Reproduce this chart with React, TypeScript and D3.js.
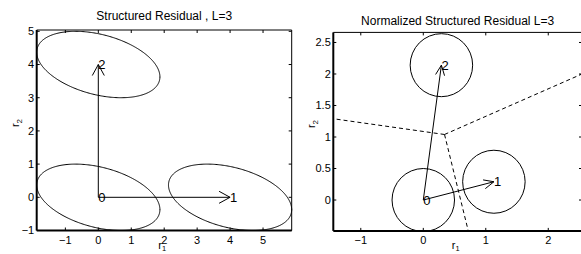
import React, { useEffect, useRef } from "react";
import * as d3 from "d3";

// left panel: structured residual
const leftXTicks = [-1, 0, 1, 2, 3, 4, 5];
const leftYTicks = [-1, 0, 1, 2, 3, 4, 5];
const leftPoints = [
  { label: "0", x: 0, y: 0 },
  { label: "1", x: 4, y: 0 },
  { label: "2", x: 0, y: 4 },
];
const ellipseRadius = { rx: 1.87, ry: 1.0, rho: -0.37 };

// right panel: normalized structured residual
const rightXTicks = [-1, 0, 1, 2];
const rightYTicks = [0, 0.5, 1, 1.5, 2, 2.5];
const rightPoints = [
  { label: "0", x: 0, y: 0 },
  { label: "1", x: 1.13, y: 0.29 },
  { label: "2", x: 0.29, y: 2.14 },
];
const circleRadius = 0.5;
const boundaryJoin = { x: 0.34, y: 1.04 };
const boundaryEnds = [
  { x: -1.44, y: 1.29 },
  { x: 2.54, y: 2.0 },
  { x: 0.72, y: -0.49 },
];

const FONT = "'Liberation Sans', Arial, Helvetica, sans-serif";
const fmt = d3.format("");

export default function App() {
  const ref = useRef<SVGSVGElement>(null);

  useEffect(() => {
    const svg = d3.select(ref.current);
    svg.selectAll("*").remove();

    const drawAxes = (
      g: any,
      x: d3.ScaleLinear<number, number>,
      y: d3.ScaleLinear<number, number>,
      xTicks: number[],
      yTicks: number[],
      title: string,
      titleY: number,
      yLabelY: number
    ) => {
      const [x0, x1] = x.range();
      const [y0, y1] = y.range(); // y0 bottom, y1 top
      const tk = 3;

      // ticks on all four sides, pointing in
      xTicks.forEach((t) => {
        g.append("line").attr("x1", x(t)).attr("x2", x(t)).attr("y1", y0).attr("y2", y0 - tk).attr("stroke", "#000");
        g.append("line").attr("x1", x(t)).attr("x2", x(t)).attr("y1", y1).attr("y2", y1 + tk).attr("stroke", "#000");
        g.append("text")
          .attr("x", x(t))
          .attr("y", y0 + 13.3)
          .attr("text-anchor", "middle")
          .attr("font-size", 11)
          .text(fmt(t));
      });
      yTicks.forEach((t) => {
        g.append("line").attr("x1", x0).attr("x2", x0 + tk).attr("y1", y(t)).attr("y2", y(t)).attr("stroke", "#000");
        g.append("line").attr("x1", x1).attr("x2", x1 - tk).attr("y1", y(t)).attr("y2", y(t)).attr("stroke", "#000");
        g.append("text")
          .attr("x", x0 - 2.5)
          .attr("y", y(t))
          .attr("dy", "0.36em")
          .attr("text-anchor", "end")
          .attr("font-size", 11)
          .text(fmt(t));
      });

      // box
      g.append("line").attr("x1", x0).attr("x2", x1).attr("y1", y1).attr("y2", y1).attr("stroke", "#000");
      g.append("line").attr("x1", x1).attr("x2", x1).attr("y1", y1).attr("y2", y0).attr("stroke", "#000");
      g.append("line").attr("x1", x0).attr("x2", x1).attr("y1", y0).attr("y2", y0).attr("stroke", "#000").attr("stroke-width", 2);
      g.append("line").attr("x1", x0).attr("x2", x0).attr("y1", y1).attr("y2", y0).attr("stroke", "#000").attr("stroke-width", 2);

      // title
      g.append("text")
        .attr("x", (x0 + x1) / 2)
        .attr("y", titleY)
        .attr("text-anchor", "middle")
        .attr("font-size", 12)
        .text(title);

      // x label r1 (sits at the very bottom edge, as in the original)
      const xl = g.append("text")
        .attr("x", (x0 + x1) / 2 - 2)
        .attr("y", y0 + 18.5)
        .attr("text-anchor", "middle")
        .attr("font-size", 11);
      xl.append("tspan").text("r");
      xl.append("tspan").attr("font-size", 7.5).attr("dy", 2).text("1");

      // y label r2
      const yl = g.append("text")
        .attr("transform", `translate(${x0 - 18},${yLabelY}) rotate(-90)`)
        .attr("text-anchor", "middle")
        .attr("font-size", 11);
      yl.append("tspan").text("r");
      yl.append("tspan").attr("font-size", 8).attr("dy", 3).text("2");
    };

    const drawArrow = (
      g: any,
      px0: number,
      py0: number,
      px1: number,
      py1: number,
      len: number,
      half: number
    ) => {
      g.append("line")
        .attr("x1", px0).attr("y1", py0).attr("x2", px1).attr("y2", py1)
        .attr("stroke", "#000");
      const a = Math.atan2(py1 - py0, px1 - px0);
      const bx = px1 - len * Math.cos(a);
      const by = py1 - len * Math.sin(a);
      const nx = -Math.sin(a) * half;
      const ny = Math.cos(a) * half;
      g.append("path")
        .attr("d", `M${bx + nx},${by + ny}L${px1},${py1}L${bx - nx},${by - ny}`)
        .attr("fill", "none")
        .attr("stroke", "#000");
    };

    const drawLabels = (g: any, pts: typeof leftPoints, x: any, y: any) => {
      g.selectAll(null)
        .data(pts)
        .enter()
        .append("text")
        .attr("x", (d: any) => x(d.x))
        .attr("y", (d: any) => y(d.y))
        .attr("dy", "0.36em")
        .attr("font-size", 13)
        .text((d: any) => d.label);
    };

    const root = svg.append("g").attr("font-family", FONT).attr("fill", "#000");

    // ---- left panel ----
    const xL = d3.scaleLinear().domain([-1.87, 5.87]).range([36.7, 291.7]);
    const yL = d3.scaleLinear().domain([-1, 5.04]).range([230.5, 30]);
    const gL = root.append("g");

    // ellipses (same shape, centred on each point)
    const phi = Math.acos(ellipseRadius.rho);
    const ts = d3.range(0, 2 * Math.PI + 0.02, 0.02);
    leftPoints.forEach((p) => {
      const path = d3
        .line<number>()
        .x((t) => xL(p.x + ellipseRadius.rx * Math.cos(t)))
        .y((t) => yL(p.y + ellipseRadius.ry * Math.cos(t + phi)));
      gL.append("path").attr("d", path(ts)).attr("fill", "none").attr("stroke", "#000");
    });

    leftPoints.slice(1).forEach((p) => {
      drawArrow(gL, xL(leftPoints[0].x), yL(leftPoints[0].y), xL(p.x), yL(p.y), 11, 6);
    });
    drawLabels(gL, leftPoints, xL, yL);
    drawAxes(gL, xL, yL, leftXTicks, leftYTicks, "Structured Residual , L=3", 19.5, 123);

    // ---- right panel ----
    const xR = d3.scaleLinear().domain([-1.44, 2.54]).range([333.3, 582]);
    const yR = d3.scaleLinear().domain([-0.49, 2.66]).range([230.9, 32.4]);
    const gR = root.append("g");

    rightPoints.forEach((p) => {
      gR.append("ellipse")
        .attr("cx", xR(p.x))
        .attr("cy", yR(p.y))
        .attr("rx", xR(circleRadius) - xR(0))
        .attr("ry", yR(0) - yR(circleRadius))
        .attr("fill", "none")
        .attr("stroke", "#000");
    });

    // dashed decision boundaries
    boundaryEnds.forEach((e) => {
      gR.append("line")
        .attr("x1", xR(boundaryJoin.x))
        .attr("y1", yR(boundaryJoin.y))
        .attr("x2", xR(e.x))
        .attr("y2", yR(e.y))
        .attr("stroke", "#000")
        .attr("stroke-dasharray", "4,3");
    });

    rightPoints.slice(1).forEach((p) => {
      drawArrow(gR, xR(rightPoints[0].x), yR(rightPoints[0].y), xR(p.x), yR(p.y), 10, 4.5);
    });
    drawLabels(gR, rightPoints, xR, yR);
    drawAxes(gR, xR, yR, rightXTicks, rightYTicks, "Normalized Structured Residual L=3", 25, 124);
  }, []);

  return (
    <svg
      ref={ref}
      width={581}
      height={254}
      style={{ position: "fixed", left: 0, top: 0, background: "#fff" }}
    />
  );
}
